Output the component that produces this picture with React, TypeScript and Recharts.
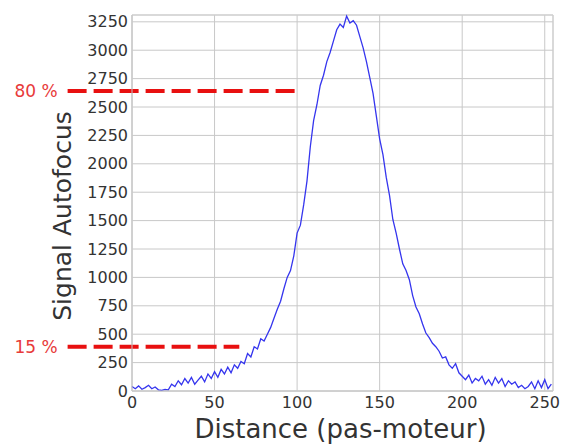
import {
  LineChart,
  Line,
  XAxis,
  YAxis,
  CartesianGrid,
  ReferenceLine,
  ReferenceArea,
} from 'recharts';

const FONT = '"DejaVu Sans", sans-serif';
const RED = '#e81010';
const BLUE = '#3535ee';

// distance (pas-moteur), sampled every 2 steps
const distances = [
  0, 2, 4, 6, 8, 10, 12, 14, 16, 18, 20, 22, 24, 26, 28, 30, 32, 34, 36, 38,
  40, 42, 44, 46, 48, 50, 52, 54, 56, 58, 60, 62, 64, 66, 68, 70, 72, 74, 76, 78,
  80, 82, 84, 86, 88, 90, 92, 94, 96, 98, 100, 102, 104, 106, 108, 110, 112, 114, 116, 118,
  120, 122, 124, 126, 128, 130, 132, 134, 136, 138, 140, 142, 144, 146, 148, 150, 152, 154, 156, 158,
  160, 162, 164, 166, 168, 170, 172, 174, 176, 178, 180, 182, 184, 186, 188, 190, 192, 194, 196, 198,
  200, 202, 204, 206, 208, 210, 212, 214, 216, 218, 220, 222, 224, 226, 228, 230, 232, 234, 236, 238,
  240, 242, 244, 246, 248, 250, 252, 254,
];

const signal = [
  40, 20, 45, 15, 30, 50, 20, 35, 10, 5, 15, 10, 60, 40, 90, 55, 110, 70, 120, 60,
  95, 130, 80, 150, 110, 170, 120, 190, 150, 210, 160, 230, 200, 260, 240, 330, 300, 390, 370, 460,
  440, 500, 560, 640, 720, 790, 900, 1000, 1060, 1190, 1390, 1460, 1640, 1850, 2150, 2380, 2520, 2690, 2780, 2900,
  2980, 3080, 3180, 3230, 3200, 3300, 3240, 3260, 3220, 3120, 3020, 2900, 2760, 2620, 2420, 2220, 2080, 1880, 1720, 1510,
  1390, 1250, 1120, 1060, 980, 840, 740, 680, 590, 510, 470, 420, 390, 350, 290, 300, 230, 200, 240, 160,
  130, 100, 140, 70, 110, 90, 130, 60, 100, 50, 120, 70, 110, 40, 90, 60, 80, 30, 50, 20,
  40, 80, 20, 90, 30, 100, 20, 60,
];

const xTicks = [0, 50, 100, 150, 200, 250];
const yTicks = [0, 250, 500, 750, 1000, 1250, 1500, 1750, 2000, 2250, 2500, 2750, 3000, 3250];

// threshold lines: [label, level, x start, x end]
const thresholds: [string, number, number, number][] = [
  ['80 %', 2640, -39, 100],
  ['15 %', 390, -39, 65],
];

const data = distances.map((d, i) => ({ d, s: signal[i] }));

function XLabel({ viewBox }: any) {
  const cx = viewBox.x + viewBox.width / 2 - 2;
  return (
    <text x={cx} y={viewBox.y + 47} textAnchor="middle" fontSize={26} fill="#333" fontFamily={FONT}>
      Distance (pas-moteur)
    </text>
  );
}

function YLabel({ viewBox }: any) {
  const x = viewBox.x + 71;
  const y = viewBox.y + viewBox.height / 2 + 13;
  return (
    <text
      x={x}
      y={y}
      transform={`rotate(-90, ${x}, ${y})`}
      textAnchor="middle"
      fontSize={25}
      fill="#333"
      fontFamily={FONT}
    >
      Signal Autofocus
    </text>
  );
}

export default function App() {
  return (
    <div style={{ position: 'fixed', left: 0, top: 0, background: '#fff' }}>
      <LineChart
        width={562}
        height={444}
        data={data}
        margin={{ top: 15, right: 9, left: 0, bottom: 0 }}
        style={{ fontFamily: FONT }}
      >
        <CartesianGrid stroke="#c8c8c8" />
        <ReferenceArea x1={0} x2={255} y1={0} y2={3310} fill="none" stroke="#cfcfcf" />
        <XAxis
          dataKey="d"
          type="number"
          domain={[0, 255]}
          ticks={xTicks}
          height={53}
          axisLine={{ stroke: '#c8c8c8' }}
          tickLine={false}
          tickSize={2}
          tickMargin={4}
          tick={{ fontSize: 16, fill: '#333', fontFamily: FONT }}
          label={<XLabel />}
        />
        <YAxis
          type="number"
          domain={[0, 3310]}
          ticks={yTicks}
          width={132}
          axisLine={{ stroke: '#c8c8c8' }}
          tickLine={false}
          tickSize={2}
          tickMargin={2}
          tick={{ fontSize: 16, fill: '#333', fontFamily: FONT }}
          label={<YLabel />}
        />
        {thresholds.map(([name, level, x1, x2]) => (
          <ReferenceLine
            key={name}
            segment={[
              { x: x1, y: level },
              { x: x2, y: level },
            ]}
            ifOverflow="visible"
            stroke={RED}
            strokeWidth={4}
            strokeDasharray="19 7"
            label={{
              value: name,
              position: 'left',
              offset: 10,
              fill: '#e83a3a',
              fontSize: 17,
              fontFamily: FONT,
            }}
          />
        ))}
        <Line
          type="linear"
          dataKey="s"
          stroke={BLUE}
          strokeWidth={1.3}
          dot={false}
          isAnimationActive={false}
        />
      </LineChart>
    </div>
  );
}
